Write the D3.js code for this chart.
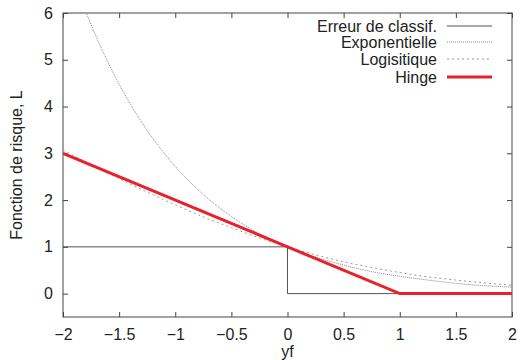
<!DOCTYPE html>
<html>
<head>
<meta charset="utf-8">
<script src="https://cdn.jsdelivr.net/npm/d3@7"></script>
<style>
  body { margin: 0; background: #fff; }
  text { font-family: "Liberation Sans", Arial, sans-serif; fill: #222; }
</style>
</head>
<body>
<div class="canvas"></div>
<script>
const dims = { width: 520, height: 360 };
const margin = { top: 13, right: 8, bottom: 43, left: 63 };

const xs = [-2, -1.75, -1.5, -1.25, -1, -0.75, -0.5, -0.25, 0, 0.25, 0.5, 0.75, 1, 1.25, 1.5, 1.75, 2];
const expVals = [7.39, 5.75, 4.48, 3.49, 2.72, 2.12, 1.65, 1.28, 1, 0.78, 0.61, 0.47, 0.37, 0.29, 0.22, 0.17, 0.14];
const logVals = [3.07, 2.76, 2.46, 2.17, 1.9, 1.64, 1.41, 1.19, 1, 0.83, 0.68, 0.56, 0.45, 0.36, 0.29, 0.23, 0.18];
const errX = [-2, 0, 0, 2];
const errY = [1, 1, 0, 0];
const hingeX = [-2, 1, 2];
const hingeY = [3, 0, 0];

const xTicks = [-2, -1.5, -1, -0.5, 0, 0.5, 1, 1.5, 2];
const yTicks = [0, 1, 2, 3, 4, 5, 6];
const legendLabels = ['Erreur de classif.', 'Exponentielle', 'Logisitique', 'Hinge'];

const fontSize = 16;
const w = dims.width - margin.left - margin.right;
const h = dims.height - margin.top - margin.bottom;

const svg = d3.select('.canvas').append('svg')
    .attr('width', dims.width)
    .attr('height', dims.height);

const x = d3.scaleLinear().domain([-2, 2]).range([0, w]);
const y = d3.scaleLinear().domain([-0.5, 6]).range([h, 0]);

const graph = svg.append('g').attr('transform', `translate(${margin.left}, ${margin.top})`);

svg.append('defs').append('clipPath').attr('id', 'clip')
    .append('rect').attr('width', w).attr('height', h);

const axisCol = '#444';

// inward ticks on every side, gnuplot style
const tickLen = 5;
const fmt = d => d < 0 ? '\u2212' + Math.abs(d) : String(d);

const xAxisB = graph.append('g').attr('transform', `translate(0, ${h})`)
    .call(d3.axisBottom(x).tickValues(xTicks).tickSizeInner(-tickLen).tickSizeOuter(0).tickPadding(12).tickFormat(fmt));
const xAxisT = graph.append('g')
    .call(d3.axisTop(x).tickValues(xTicks).tickSizeInner(-tickLen).tickSizeOuter(0).tickFormat(''));
const yAxisL = graph.append('g')
    .call(d3.axisLeft(y).tickValues(yTicks).tickSizeInner(-tickLen).tickSizeOuter(0).tickPadding(10).tickFormat(fmt));
const yAxisR = graph.append('g').attr('transform', `translate(${w}, 0)`)
    .call(d3.axisRight(y).tickValues(yTicks).tickSizeInner(-tickLen).tickSizeOuter(0).tickFormat(''));

[xAxisB, xAxisT, yAxisL, yAxisR].forEach(a => {
    a.select('.domain').remove();
    a.selectAll('line').attr('stroke', axisCol);
    a.selectAll('text').attr('font-size', fontSize).attr('fill', '#222')
        .style('font-family', '"Liberation Sans", Arial, sans-serif');
});

graph.append('rect')
    .attr('width', w).attr('height', h)
    .attr('fill', 'none').attr('stroke', axisCol).attr('stroke-width', 1);

const line = d3.line().x(d => x(d[0])).y(d => y(d[1]));
const curve = d3.line().x(d => x(d[0])).y(d => y(d[1])).curve(d3.curveMonotoneX);

const plot = graph.append('g').attr('clip-path', 'url(#clip)');

const series = [
    { name: legendLabels[0], pts: errX.map((v, i) => [v, errY[i]]), gen: line, color: '#555', width: 1, dash: null },
    { name: legendLabels[1], pts: xs.map((v, i) => [v, expVals[i]]), gen: curve, color: '#888', width: 1, dash: '1,1' },
    { name: legendLabels[2], pts: xs.map((v, i) => [v, logVals[i]]), gen: curve, color: '#999', width: 1, dash: '2,3' },
    { name: legendLabels[3], pts: hingeX.map((v, i) => [v, hingeY[i]]), gen: line, color: '#e8212a', width: 3, dash: null }
];

series.forEach(s => {
    plot.append('path')
        .attr('d', s.gen(s.pts))
        .attr('fill', 'none')
        .attr('stroke', s.color)
        .attr('stroke-width', s.width)
        .attr('stroke-dasharray', s.dash);
});

// legend
const legend = svg.append('g');
const rowY = [26, 42, 59, 77];
series.forEach((s, i) => {
    legend.append('text')
        .attr('x', 437).attr('y', rowY[i]).attr('dy', '0.35em')
        .attr('text-anchor', 'end').attr('font-size', fontSize)
        .text(s.name);
    legend.append('line')
        .attr('x1', 447).attr('x2', 492)
        .attr('y1', rowY[i]).attr('y2', rowY[i])
        .attr('stroke', s.color).attr('stroke-width', s.width)
        .attr('stroke-dasharray', s.dash);
});

// axis titles
svg.append('text')
    .attr('x', margin.left + x(0)).attr('y', 357)
    .attr('text-anchor', 'middle').attr('font-size', fontSize)
    .text('yf');

svg.append('text')
    .attr('transform', `translate(22, ${margin.top + h / 2}) rotate(-90)`)
    .attr('text-anchor', 'middle').attr('font-size', fontSize)
    .text('Fonction de risque, L');
</script>
</body>
</html>
